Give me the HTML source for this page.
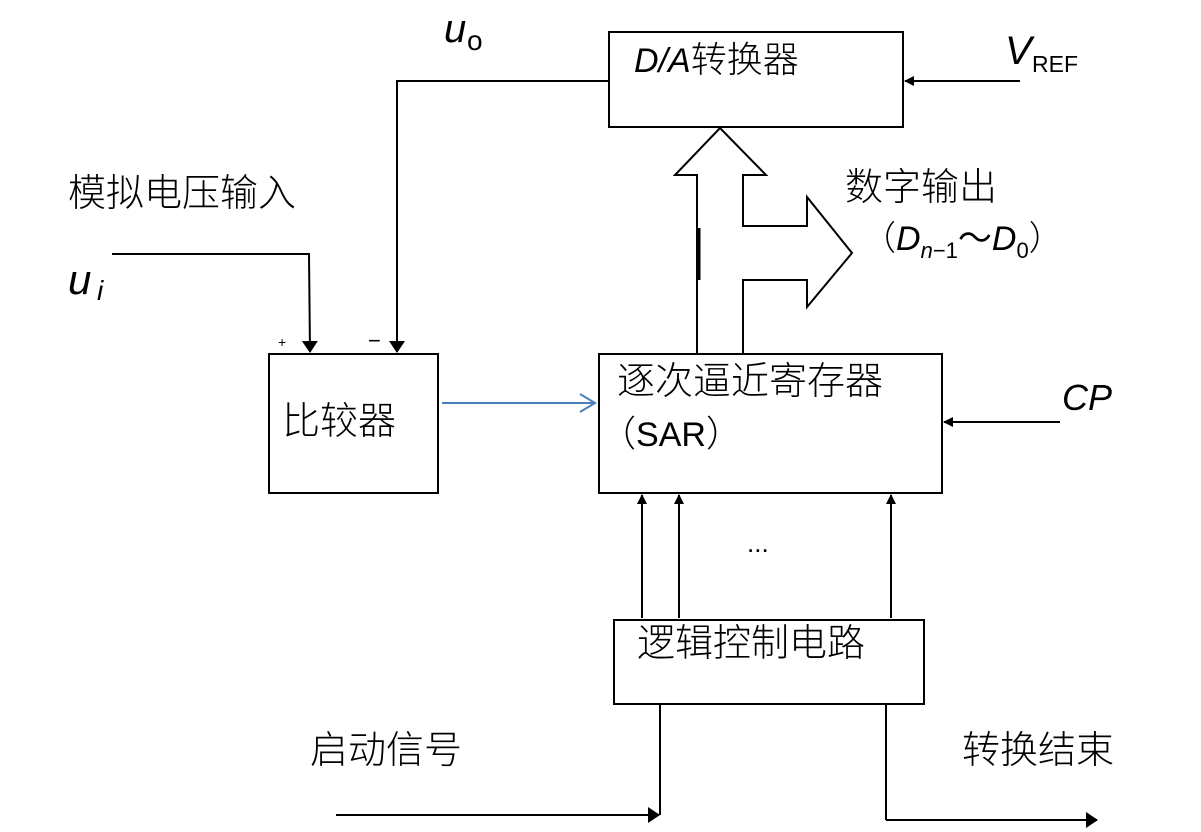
<!DOCTYPE html>
<html><head><meta charset="utf-8"><style>
html,body{margin:0;padding:0;background:#fff;}
svg{display:block;}
text{font-family:"Liberation Sans","Noto Sans CJK SC",sans-serif;fill:#000;}
.cn{font-family:"Noto Sans CJK SC",sans-serif;font-weight:300;}
</style></head><body>
<svg width="1201" height="832" viewBox="0 0 1201 832" xmlns="http://www.w3.org/2000/svg">
<defs>
<marker id="a" markerWidth="10" markerHeight="10" refX="9" refY="5" orient="auto" markerUnits="userSpaceOnUse"><path d="M0,0 L10,5 L0,10 z" fill="#000"/></marker>
<marker id="a2" markerWidth="12" markerHeight="16" refX="11" refY="8" orient="auto" markerUnits="userSpaceOnUse"><path d="M0,0 L12,8 L0,16 z" fill="#000"/></marker>
</defs>
<g fill="none" stroke="#000" stroke-width="2">
<rect x="609" y="32" width="294" height="95"/>
<rect x="269" y="354" width="169" height="139"/>
<rect x="599" y="354" width="343" height="139"/>
<rect x="614" y="620" width="310" height="84"/>
<polyline points="609,81 397,81 397,352" marker-end="url(#a2)"/>
<line x1="1020" y1="81" x2="905" y2="81" marker-end="url(#a)"/>
<polyline points="112,254 309,254 310,352" marker-end="url(#a2)"/>
<line x1="1060" y1="422" x2="944" y2="422" marker-end="url(#a)"/>
<line x1="642" y1="618" x2="642" y2="495" marker-end="url(#a)"/>
<line x1="679" y1="618" x2="679" y2="495" marker-end="url(#a)"/>
<line x1="891" y1="618" x2="891" y2="495" marker-end="url(#a)"/>
<line x1="660" y1="704" x2="660" y2="815"/>
<line x1="336" y1="815" x2="659" y2="815" marker-end="url(#a2)"/>
<line x1="886" y1="704" x2="886" y2="820"/>
<line x1="886" y1="820" x2="1097" y2="820" marker-end="url(#a2)"/>
<polyline points="697,354 697,175 675,175 720,128 766,175 743,175 743,226 807,226 807,197 852,253 807,307 807,280 743,280 743,354"/>
</g>
<line x1="699" y1="228" x2="699" y2="280" stroke="#000" stroke-width="3"/>
<g stroke="#4a7ebb" stroke-width="2" fill="none">
<line x1="442" y1="403" x2="594" y2="403"/>
<polyline points="580,394 595,403 580,412"/>
</g>
<text x="634" y="72" font-size="34"><tspan font-style="italic">D/A</tspan><tspan class="cn" font-size="36">转换器</tspan></text>
<text x="444" y="42" font-size="40" font-style="italic">u</text>
<text x="467" y="50" font-size="28">o</text>
<text x="1005" y="64" font-size="40" font-style="italic">V</text>
<text x="1032" y="72" font-size="23">REF</text>
<text x="68" y="206" font-size="38" class="cn">模拟电压输入</text>
<text x="68" y="294" font-size="42" font-style="italic">u</text>
<text x="97" y="300" font-size="28" font-style="italic">i</text>
<text x="278" y="347" font-size="14">+</text>
<text x="368" y="348" font-size="22">−</text>
<text x="282" y="434" font-size="38" class="cn">比较器</text>
<text x="617" y="394" font-size="38" class="cn">逐次逼近寄存器</text>
<text x="600" y="446" font-size="34"><tspan class="cn" font-size="36">（</tspan>SAR<tspan class="cn" font-size="36">）</tspan></text>
<text x="1062" y="410" font-size="36" font-style="italic">CP</text>
<text x="845" y="200" font-size="38" class="cn">数字输出</text>
<text x="862" y="250" font-size="34"><tspan class="cn">（</tspan><tspan font-style="italic">D</tspan><tspan font-size="22" dy="8" font-style="italic">n</tspan><tspan font-size="22">−1</tspan><tspan dy="-8">～</tspan><tspan font-style="italic">D</tspan><tspan font-size="22" dy="8">0</tspan><tspan dy="-8" class="cn">）</tspan></text>
<text x="747" y="552" font-size="26">...</text>
<text x="637" y="656" font-size="38" class="cn">逻辑控制电路</text>
<text x="310" y="763" font-size="38" class="cn">启动信号</text>
<text x="962" y="763" font-size="38" class="cn">转换结束</text>
</svg>
</body></html>
